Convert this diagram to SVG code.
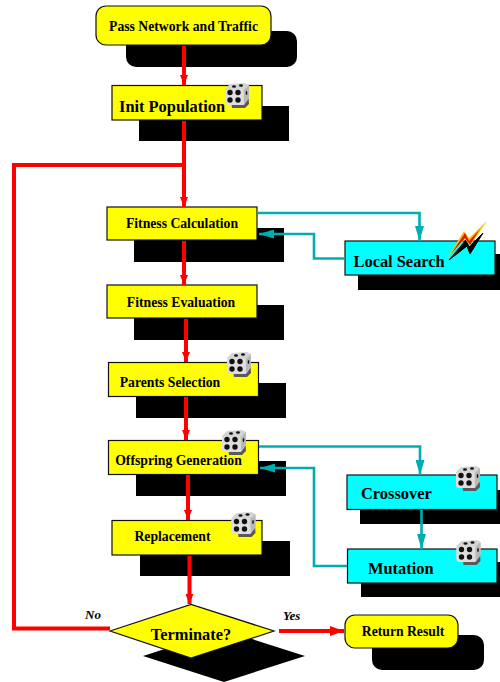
<svg xmlns="http://www.w3.org/2000/svg" xmlns:xlink="http://www.w3.org/1999/xlink" width="500" height="682" viewBox="0 0 500 682">
<style>
text{font-family:"Liberation Serif","Times New Roman",serif;font-weight:bold;fill:#000}
.s{fill:#000}
.y{fill:#ff0;stroke:#111;stroke-width:1.2}
.c{fill:#0ff;stroke:#111;stroke-width:1.2}
.r{fill:none;stroke:#f00;stroke-width:4}
.t{fill:none;stroke:#00aeb0;stroke-width:2.6}
.f13{font-size:13.700px}
.f16{font-size:16.400px}
.lab{font-size:13px;font-style:italic}
</style>
<defs>
<marker id="ar" markerUnits="userSpaceOnUse" markerWidth="10" markerHeight="8" refX="10" refY="4" orient="auto" viewBox="0 0 10 8"><path d="M0 0L10 4L0 8Z" fill="#f00"/></marker>
<marker id="ay" markerUnits="userSpaceOnUse" markerWidth="14" markerHeight="10" refX="14" refY="5" orient="auto" viewBox="0 0 14 10"><path d="M0 0L14 5L0 10Z" fill="#f00"/></marker>
<marker id="at" markerUnits="userSpaceOnUse" markerWidth="15" markerHeight="9" refX="15" refY="4.500" orient="auto" viewBox="0 0 15 9"><path d="M0 0L15 4.500L0 9Z" fill="#00aeb0"/></marker>
<symbol id="die" viewBox="0 0 26 27" width="26" height="27">
<path d="M6 10L24 7L25 22L21 26L8 26Z" fill="#5a5a5a"/>
<path d="M1 7L6 2L21 1L25 3L25 16L20 23L4 23L1 20Z" fill="#d4d4d4"/>
<path d="M20 8L25 3L25 16L20 22Z" fill="#b8b8b8"/>
<path d="M1 8L19 7L20 21Q20 23 18 23L4 23Q1 23 1 20Z" fill="#dedede"/>
<g fill="#111"><circle cx="6" cy="10.500" r="2.700"/><circle cx="14" cy="10.500" r="2.700"/><circle cx="6" cy="18" r="2.700"/><circle cx="14" cy="18" r="2.700"/><ellipse cx="10" cy="4.500" rx="2" ry="1.200"/><ellipse cx="17" cy="3.500" rx="2" ry="1.200"/><ellipse cx="22.500" cy="11" rx="0.800" ry="2"/></g>
</symbol>
</defs>
<g id="pass-network"><rect class="s" x="126" y="31" width="171" height="36" rx="10"/><rect class="y" x="96" y="6" width="175" height="39" rx="10"/><text class="f13" x="183.500" y="31" text-anchor="middle">Pass Network and Traffic</text></g>
<g id="init-population"><rect class="s" x="139" y="106" width="150" height="35"/><rect class="y" x="112" y="85.500" width="150" height="34.500"/><text x="119" y="112" class="f16">Init Population</text><use xlink:href="#die" href="#die" x="224" y="82"/></g>
<g id="fitness-calculation"><rect class="s" x="134" y="228" width="150" height="34"/><rect class="y" x="107" y="207" width="150" height="33"/><text class="f13" x="182" y="228" text-anchor="middle">Fitness Calculation</text></g>
<g id="local-search"><rect class="s" x="358" y="254" width="142" height="36"/><rect class="c" x="345" y="241" width="150" height="34"/><text x="353.500" y="267" class="f16">Local Search</text>
<path d="M449 260L466 240L469 247L483 233L470 254L467 246Z" fill="#000" stroke="#000"/><path d="M447 258L464 231L469 238L487 221L470 246L465 239Z" fill="#ffc000"/><path d="M451 254L465 233L469 241L480 229L470 245L465 238Z" fill="#d81a00"/></g>
<g id="fitness-evaluation"><rect class="s" x="134" y="305" width="150" height="35"/><rect class="y" x="107" y="285" width="150" height="33"/><text class="f13" x="181" y="307" text-anchor="middle">Fitness Evaluation</text></g>
<g id="parents-selection"><rect class="s" x="136" y="383" width="150" height="35"/><rect class="y" x="108.500" y="362.500" width="150" height="34"/><text class="f13" x="170" y="387" text-anchor="middle">Parents Selection</text><use xlink:href="#die" href="#die" x="226" y="351"/></g>
<g id="offspring-generation"><rect class="s" x="136" y="461" width="150" height="35"/><rect class="y" x="108.500" y="440.500" width="150" height="34"/><text class="f13" x="178.500" y="465" text-anchor="middle">Offspring Generation</text><use xlink:href="#die" href="#die" x="221" y="429"/></g>
<g id="crossover"><rect class="s" x="360" y="490" width="140" height="34"/><rect class="c" x="347" y="475" width="150" height="34.500"/><text x="361" y="499" class="f16">Crossover</text><use xlink:href="#die" href="#die" x="455" y="465"/></g>
<g id="replacement"><rect class="s" x="140" y="541" width="150" height="35"/><rect class="y" x="112" y="520.500" width="150" height="34.500"/><text class="f13" x="172.500" y="541" text-anchor="middle">Replacement</text><use xlink:href="#die" href="#die" x="230.500" y="511"/></g>
<g id="mutation"><rect class="s" x="361" y="562" width="139" height="35"/><rect class="c" x="347.500" y="549" width="149.500" height="34"/><text x="368" y="574" class="f16">Mutation</text><use xlink:href="#die" href="#die" x="455.500" y="539"/></g>
<g id="terminate"><path class="s" d="M143 656L224 630L305 656L224 682Z"/><path d="M110 631L191 604.500L274 631L191 658Z" fill="#ff0" stroke="#111" stroke-width="1.200"/><text x="191" y="640" class="f16" text-anchor="middle">Terminate?</text></g>
<g id="return-result"><rect class="s" x="372" y="635" width="112" height="35" rx="10"/><rect class="y" x="345" y="615" width="113" height="33" rx="10"/><text class="f13" x="403" y="636" text-anchor="middle">Return Result</text></g>
<text class="lab" x="85" y="619">No</text>
<text class="lab" x="283" y="620">Yes</text>
<g id="connectors">
<path class="r" d="M184 46V85" marker-end="url(#ar)"/>
<path class="r" d="M184 121V207" marker-end="url(#ar)"/>
<path class="r" d="M184 241V285" marker-end="url(#ar)"/>
<path class="r" d="M186 319V362" marker-end="url(#ar)"/>
<path class="r" d="M186 397V440" marker-end="url(#ar)"/>
<path class="r" d="M188 475V520" marker-end="url(#ar)"/>
<path class="r" d="M189.500 556V604" marker-end="url(#ar)"/>
<path class="r" d="M110 628.500H14V165H184"/>
<path class="r" d="M279 631H344" marker-end="url(#ay)"/>
<path class="t" d="M258 213H419.500V241" marker-end="url(#at)"/>
<path class="t" d="M345 258.500H314V234H259" marker-end="url(#at)"/>
<path class="t" d="M259 446.500H420V475" marker-end="url(#at)"/>
<path class="t" d="M347 566H314V468H260" marker-end="url(#at)"/>
<path class="t" d="M421.500 510V549" marker-end="url(#at)"/>
</g>
</svg>
